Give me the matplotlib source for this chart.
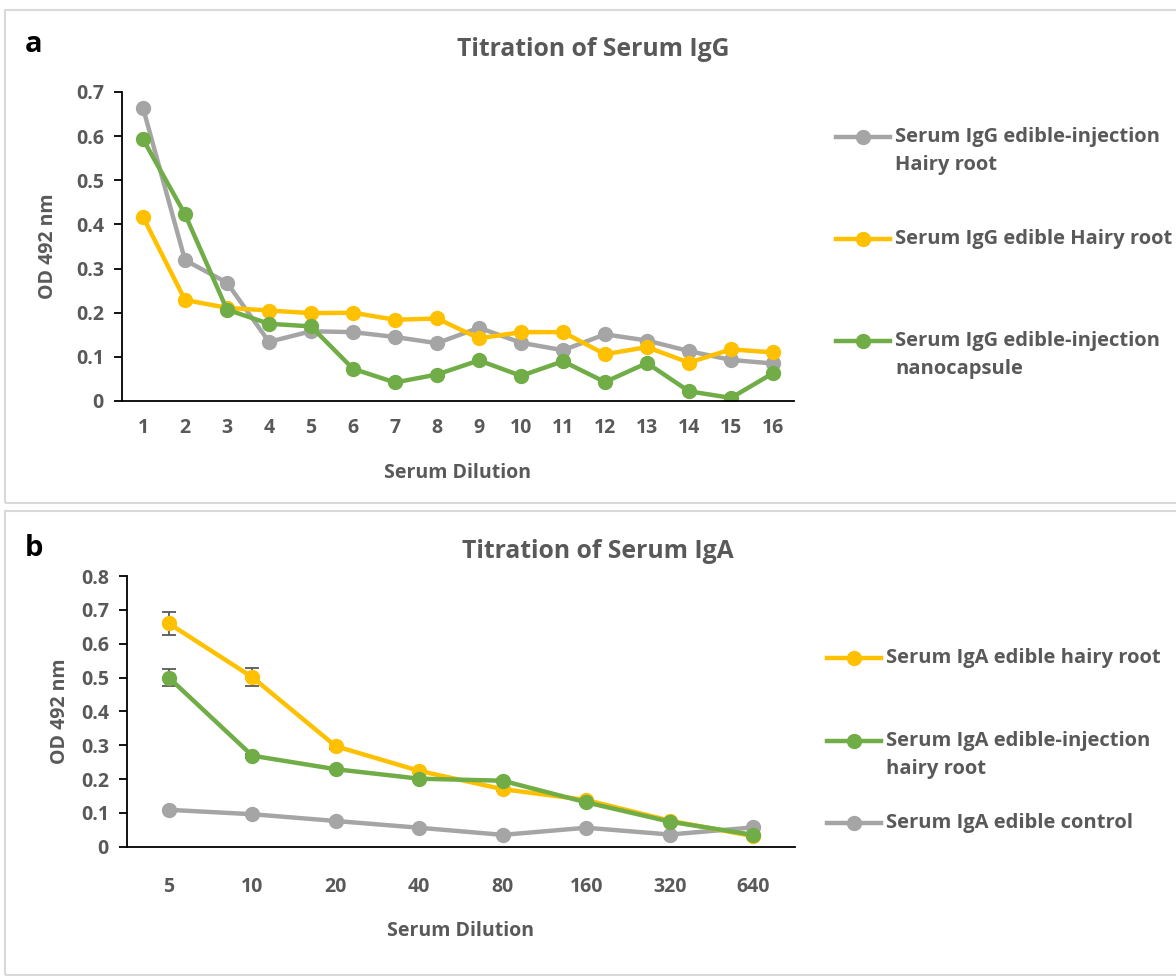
import matplotlib
matplotlib.use("Agg")
import matplotlib.pyplot as plt
from matplotlib.lines import Line2D
from matplotlib.patches import Rectangle

plt.rcParams['font.family'] = ['Open Sans', 'DejaVu Sans']
plt.rcParams['font.weight'] = 'bold'
plt.rcParams['axes.labelweight'] = 'bold'

TXT = "#595959"
GRAY, YELLOW, GREEN = "#A5A5A5", "#FFC000", "#70AD47"

# panel a data
igg_dilution = list(range(1, 17))
igg_inj_hairy = [0.664, 0.319, 0.268, 0.134, 0.158, 0.156, 0.145, 0.131, 0.166, 0.132,
                 0.115, 0.151, 0.137, 0.113, 0.093, 0.085]
igg_edible_hairy = [0.417, 0.229, 0.211, 0.205, 0.199, 0.200, 0.184, 0.187, 0.142, 0.156,
                    0.156, 0.106, 0.122, 0.087, 0.117, 0.110]
igg_inj_nano = [0.593, 0.423, 0.207, 0.175, 0.169, 0.073, 0.042, 0.060, 0.092, 0.057,
                0.090, 0.043, 0.086, 0.022, 0.007, 0.063]

# panel b data
iga_dilution = ["5", "10", "20", "40", "80", "160", "320", "640"]
iga_edible_hairy = [0.660, 0.501, 0.297, 0.224, 0.170, 0.138, 0.077, 0.031]
iga_edible_hairy_err = [0.033, 0.026, 0.008, 0.005, 0.005, 0.005, 0.004, 0.004]
iga_inj_hairy = [0.500, 0.269, 0.229, 0.201, 0.195, 0.131, 0.074, 0.035]
iga_inj_hairy_err = [0.025, 0.006, 0.005, 0.005, 0.005, 0.005, 0.004, 0.004]
iga_control = [0.109, 0.096, 0.076, 0.056, 0.035, 0.056, 0.036, 0.057]

fig = plt.figure(figsize=(11.76, 9.76), dpi=100)

# panel frames
for y0, h in [(1 - 503 / 976, 493 / 976), (1 - 975 / 976, 464 / 976)]:
    fig.add_artist(Rectangle((5 / 1176, y0), 1.2, h, transform=fig.transFigure,
                             fill=False, edgecolor="#D9D9D9", linewidth=1.5))

lw, ms = 3.2, 10
FS = 14
LFS = 14.5


def style(ax):
    for s in ["top", "right"]:
        ax.spines[s].set_visible(False)
    ax.spines["left"].set_linewidth(1.3)
    ax.spines["bottom"].set_linewidth(1.3)
    ax.tick_params(axis="y", direction="out", length=6, width=1.3, labelsize=FS,
                   labelcolor=TXT, pad=7)
    ax.tick_params(axis="x", length=0, labelsize=FS, labelcolor=TXT)


def yfmt(v):
    return "0" if v == 0 else ("%.1f" % v)


# ---- panel a
ax1 = fig.add_axes([122 / 1176, 1 - 401 / 976, 672 / 1176, 309 / 976])
ax1.plot(igg_dilution, igg_inj_hairy, "-o", color=GRAY, lw=lw, ms=ms)
ax1.plot(igg_dilution, igg_edible_hairy, "-o", color=YELLOW, lw=lw, ms=ms)
ax1.plot(igg_dilution, igg_inj_nano, "-o", color=GREEN, lw=lw, ms=ms)
ax1.set_xlim(0.5, 16.5)
ax1.set_ylim(0, 0.7)
yt = [i / 10 for i in range(8)]
ax1.set_yticks(yt)
ax1.set_yticklabels([yfmt(v) for v in yt])
ax1.set_xticks(igg_dilution)
ax1.tick_params(axis="x", pad=12)
style(ax1)
ax1.set_xlabel("Serum Dilution", fontsize=FS, color=TXT, labelpad=18)
ax1.set_ylabel("OD 492 nm", fontsize=FS, color=TXT, labelpad=13)
fig.text(593 / 1176, 1 - 50 / 976, "Titration of Serum IgG", ha="center", va="center",
         fontsize=17.8, color=TXT)
fig.text(25 / 1176, 1 - 45 / 976, "a", ha="left", va="center", fontsize=21, color="black")

# ---- panel b
ax2 = fig.add_axes([127 / 1176, 1 - 846.7 / 976, 668 / 1176, 270.7 / 976])
xb = range(len(iga_dilution))
ax2.errorbar(xb, iga_edible_hairy, yerr=iga_edible_hairy_err, fmt="-o", color=YELLOW,
             ecolor=TXT, elinewidth=1.3, capsize=5, capthick=1.3, lw=lw, ms=ms, zorder=3)
ax2.errorbar(xb, iga_inj_hairy, yerr=iga_inj_hairy_err, fmt="-o", color=GREEN,
             ecolor=TXT, elinewidth=1.3, capsize=5, capthick=1.3, lw=lw, ms=ms, zorder=3)
ax2.plot(xb, iga_control, "-o", color=GRAY, lw=lw, ms=ms, zorder=3)
ax2.set_xlim(-0.5, len(iga_dilution) - 0.5)
ax2.set_ylim(0, 0.8)
yt = [i / 10 for i in range(9)]
ax2.set_yticks(yt)
ax2.set_yticklabels([yfmt(v) for v in yt])
ax2.set_xticks(list(xb))
ax2.set_xticklabels(iga_dilution)
ax2.tick_params(axis="x", pad=22)
style(ax2)
ax2.set_xlabel("Serum Dilution", fontsize=FS, color=TXT, labelpad=17)
ax2.set_ylabel("OD 492 nm", fontsize=FS, color=TXT, labelpad=8)
fig.text(598 / 1176, 1 - 551 / 976, "Titration of Serum IgA", ha="center", va="center",
         fontsize=17.8, color=TXT)
fig.text(25 / 1176, 1 - 548 / 976, "b", ha="left", va="center", fontsize=21, color="black")


# manual legends
def legend_entry(x0, x1, y, color, text, y2=None):
    yf = 1 - y / 976
    fig.add_artist(Line2D([x0 / 1176, x1 / 1176], [yf, yf], transform=fig.transFigure,
                          color=color, lw=lw))
    fig.add_artist(Line2D([(x0 + x1) / 2 / 1176], [yf], transform=fig.transFigure,
                          color=color, marker="o", ms=ms))
    lines = text.split("\n")
    fig.text((x1 + 5) / 1176, yf, lines[0], ha="left", va="center", fontsize=LFS, color=TXT)
    if y2 is not None:
        fig.text((x1 + 5) / 1176, 1 - y2 / 976, lines[1], ha="left", va="center",
                 fontsize=LFS, color=TXT)


legend_entry(836, 890, 137, GRAY, "Serum IgG edible-injection\nHairy root", 165)
legend_entry(836, 890, 239, YELLOW, "Serum IgG edible Hairy root")
legend_entry(836, 890, 341, GREEN, "Serum IgG edible-injection\nnanocapsule", 369)

legend_entry(827, 881, 658, YELLOW, "Serum IgA edible hairy root")
legend_entry(827, 881, 741, GREEN, "Serum IgA edible-injection\nhairy root", 769)
legend_entry(827, 881, 823, GRAY, "Serum IgA edible control")

fig.savefig("out.png", dpi=100)
